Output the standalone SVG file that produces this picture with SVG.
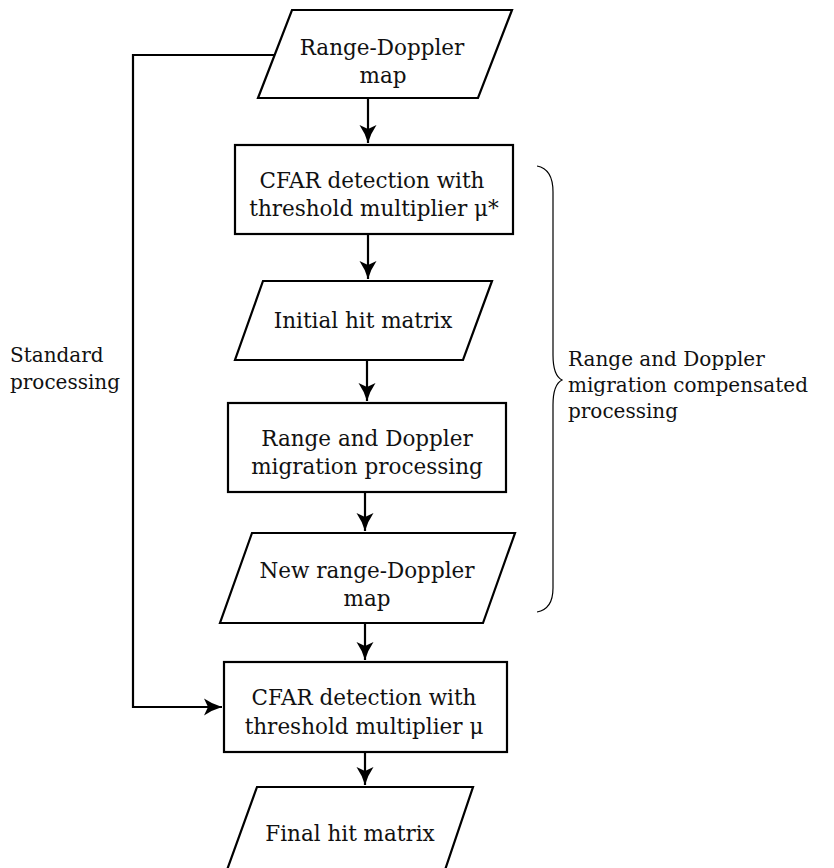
<svg xmlns="http://www.w3.org/2000/svg" width="834" height="868" viewBox="0 0 834 868">
<style>
.shape{fill:#fff;stroke:#000;stroke-width:2.2}
.t{font-family:"DejaVu Serif","Liberation Serif",serif;font-size:21.5px;fill:#111;text-anchor:middle}
.tl{font-family:"DejaVu Serif","Liberation Serif",serif;font-size:20px;fill:#111}
.c{fill:none;stroke:#000;stroke-width:2.2}
.brace{fill:none;stroke:#000;stroke-width:1.2}
</style>
<defs>
<marker id="ah" markerWidth="20" markerHeight="20" viewBox="0 0 20 20" refX="19" refY="10" orient="auto" markerUnits="userSpaceOnUse">
<path d="M19,10 Q9,7 1,1.5 L5,10 L1,18.5 Q9,13 19,10 z" fill="#000"/>
</marker>
</defs>
<rect width="834" height="868" fill="#fff"/>
<g id="connectors">
<path class="c" d="M368,98 V143" marker-end="url(#ah)"/>
<path class="c" d="M368,234 V279" marker-end="url(#ah)"/>
<path class="c" d="M367,360 V401" marker-end="url(#ah)"/>
<path class="c" d="M365,492 V531" marker-end="url(#ah)"/>
<path class="c" d="M365,623 V660" marker-end="url(#ah)"/>
<path class="c" d="M365,752 V785" marker-end="url(#ah)"/>
<path class="c" d="M275,55 H133 V707 H222" marker-end="url(#ah)"/>
</g>
<g id="n1">
<polygon class="shape" points="292,10 512,10 478,98 258,98"/>
<text class="t" x="382" y="55">Range-Doppler</text>
<text class="t" x="383" y="83">map</text>
</g>
<g id="n2">
<rect class="shape" x="235" y="145" width="278" height="89"/>
<text class="t" x="372" y="188">CFAR detection with</text>
<text class="t" x="374" y="216">threshold multiplier μ*</text>
</g>
<g id="n3">
<polygon class="shape" points="263,281 492,281 463,360 235,360"/>
<text class="t" x="363" y="328">Initial hit matrix</text>
</g>
<g id="n4">
<rect class="shape" x="228" y="403" width="278" height="89"/>
<text class="t" x="367" y="446">Range and Doppler</text>
<text class="t" x="367" y="474">migration processing</text>
</g>
<g id="n5">
<polygon class="shape" points="252,533 515,533 483,623 220,623"/>
<text class="t" x="367" y="578">New range-Doppler</text>
<text class="t" x="367" y="606">map</text>
</g>
<g id="n6">
<rect class="shape" x="224" y="662" width="283" height="90"/>
<text class="t" x="364" y="705">CFAR detection with</text>
<text class="t" x="364" y="734">threshold multiplier μ</text>
</g>
<g id="n7">
<polygon class="shape" points="257,787 473,787 445,870 227,870"/>
<text class="t" x="350" y="841">Final hit matrix</text>
</g>
<g id="brace">
<path class="brace" d="M537,166 C548,168 553,178 553,192 V355 C553,370 556,377 562,380 C556,383 553,390 553,405 V588 C553,602 548,610 537,612"/>
</g>
<g id="labels">
<text class="tl" x="10" y="362">Standard</text>
<text class="tl" x="10" y="389">processing</text>
<text class="tl" x="568" y="366">Range and Doppler</text>
<text class="tl" x="568" y="392">migration compensated</text>
<text class="tl" x="568" y="418">processing</text>
</g>
</svg>
